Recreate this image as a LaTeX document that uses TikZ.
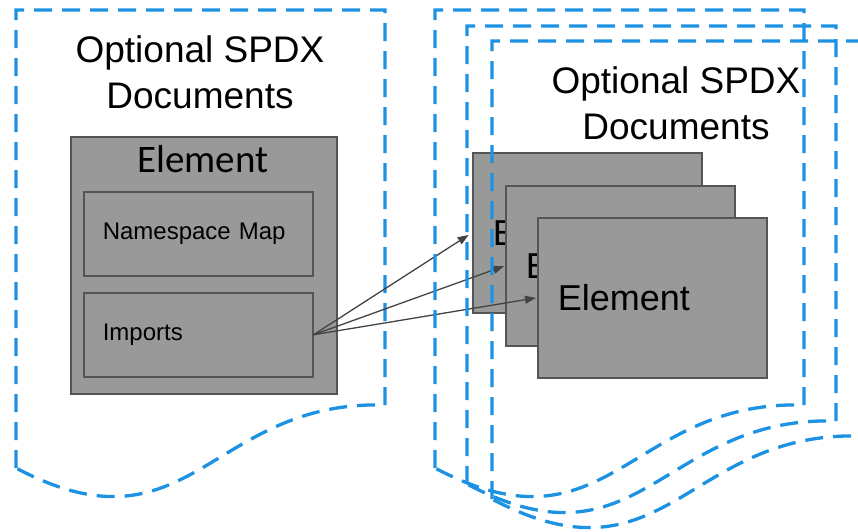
\documentclass[tikz,border=0pt]{standalone}
\usepackage{fontspec}
\setmainfont{Liberation Sans}
\newfontfamily\elemtitlefont{Carlito}
\usetikzlibrary{arrows.meta}

\definecolor{docblue}{RGB}{29,145,226}
\definecolor{elemfill}{RGB}{153,153,153}
\definecolor{elemedge}{RGB}{85,85,85}
\definecolor{linkgray}{RGB}{67,67,67}

\tikzset{
  docline/.style={draw=docblue, line width=3.3pt, dash pattern=on 18pt off 10pt},
  % dashed document outline with a wavy bottom edge, origin at its top-left corner
  spdxdoc/.pic={
    \draw[docline] (0,458) -- (0,0) -- (369,0) -- (369,395)
      .. controls (194,390) and (174,550) .. (0,458);
  },
  doctitle/.style={font=\fontsize{37}{46}\selectfont, align=center, inner sep=0pt},
  elembox/.style={rectangle, draw=elemedge, fill=elemfill, line width=1.5pt,
    inner sep=0pt, anchor=north west},
  fieldbox/.style={elembox, minimum width=229pt, minimum height=84pt,
    inner xsep=19pt, text width=191pt, align=left,
    font=\fontsize{24}{28}\selectfont},
  refbox/.style={elembox, minimum width=229pt, minimum height=160pt,
    inner xsep=20pt, text width=189pt, align=left,
    font=\fontsize{36}{42}\selectfont},
  link/.style={draw=linkgray, line width=1.3pt,
    -{Triangle[length=11pt,width=8pt]}},
}

\begin{document}
\begin{tikzpicture}[x=1pt,y=-1pt]
\useasboundingbox (0,0) rectangle (858,531);

% local document
\pic at (16,10) {spdxdoc};
\node[doctitle] (localtitle) at (200,72.5) {Optional SPDX\\Documents};

% element with its namespace map and imports
\node[elembox, minimum width=266pt, minimum height=257pt] (elem) at (70,136) {};
\node[font=\elemtitlefont\fontsize{39}{46}\selectfont, anchor=base, inner sep=0pt]
  (elemtitle) at (203,172) {Element};
\node[fieldbox] (nsmap) at (83,191) {Namespace Map};
\node[fieldbox] (imports) at (83,292) {Imports};

% imported elements in other documents
\node[refbox] (ext1) at (472,152) {Element};
\node[refbox] (ext2) at (505,185) {Element};
\node[refbox] (ext3) at (537,217) {Element};

\draw[link, shorten >=4pt] (imports.east) -- (ext1.west);
\draw[link, shorten >=1pt] (imports.east) -- (ext2.west);
\draw[link, shorten >=1pt] (imports.east) -- (ext3.west);

% stack of other optional documents
\pic at (435,10) {spdxdoc};
\pic at (467,26) {spdxdoc};
\pic at (492,41) {spdxdoc};
\node[doctitle] (othertitle) at (676,103.5) {Optional SPDX\\Documents};
\end{tikzpicture}
\end{document}
